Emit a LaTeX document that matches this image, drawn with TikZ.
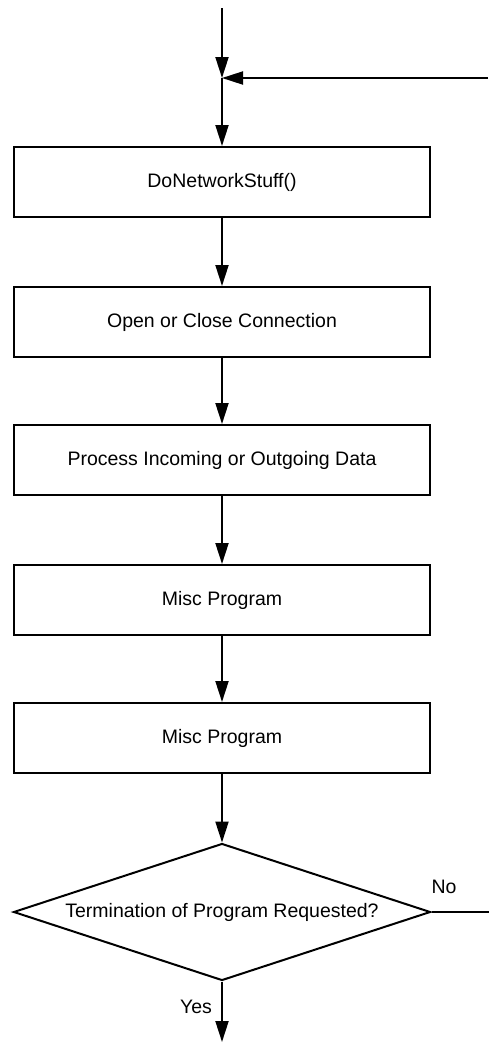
\documentclass[tikz,border=0pt]{standalone}
\usepackage{fontspec}
\setmainfont{Liberation Sans}
\usetikzlibrary{shapes.geometric,arrows.meta}
\begin{document}
\begin{tikzpicture}[x=1pt,y=1pt,
  procbox/.style={draw,line width=2pt,minimum width=416pt,minimum height=70pt,inner sep=0pt,font=\fontsize{19.5}{22}\selectfont},
  decbox/.style={draw,diamond,line width=2pt,aspect=3.04,minimum width=417pt,minimum height=137pt,inner sep=0pt,font=\fontsize{19.5}{22}\selectfont},
  flow/.style={line width=2pt,-{Triangle[length=21pt,width=13pt]}},
  lbl/.style={font=\fontsize{19.5}{22}\selectfont,inner sep=0pt}]
\useasboundingbox (0,0) rectangle (489,-1044);
\coordinate (top) at (222,-8);
\coordinate (merge) at (222,-78);
\coordinate (back) at (488,-78);
\node[procbox] (b1) at (222,-182) {DoNetworkStuff()};
\node[procbox] (b2) at (222,-322) {Open or Close Connection};
\node[procbox] (b3) at (222,-460) {Process Incoming or Outgoing Data};
\node[procbox] (b4) at (222,-600) {Misc Program};
\node[procbox] (b5) at (222,-738) {Misc Program};
\node[decbox] (d) at (222,-912) {Termination of Program Requested?};
\coordinate (noend) at (489,-912);
\coordinate (yesend) at (222,-1042);
\draw[flow] (top) -- (merge);
\draw[flow] (back) -- (merge);
\draw[flow] (merge) -- (b1.north);
\draw[flow] (b1) -- (b2);
\draw[flow] (b2) -- (b3);
\draw[flow] (b3) -- (b4);
\draw[flow] (b4) -- (b5);
\draw[flow] (b5) -- (d);
\draw[line width=2pt] (d.east) -- (noend);
\draw[flow] (d.south) -- (yesend);
\node[lbl] (no) at (444,-887) {No};
\node[lbl] (yes) at (196,-1007) {Yes};
\end{tikzpicture}
\end{document}
